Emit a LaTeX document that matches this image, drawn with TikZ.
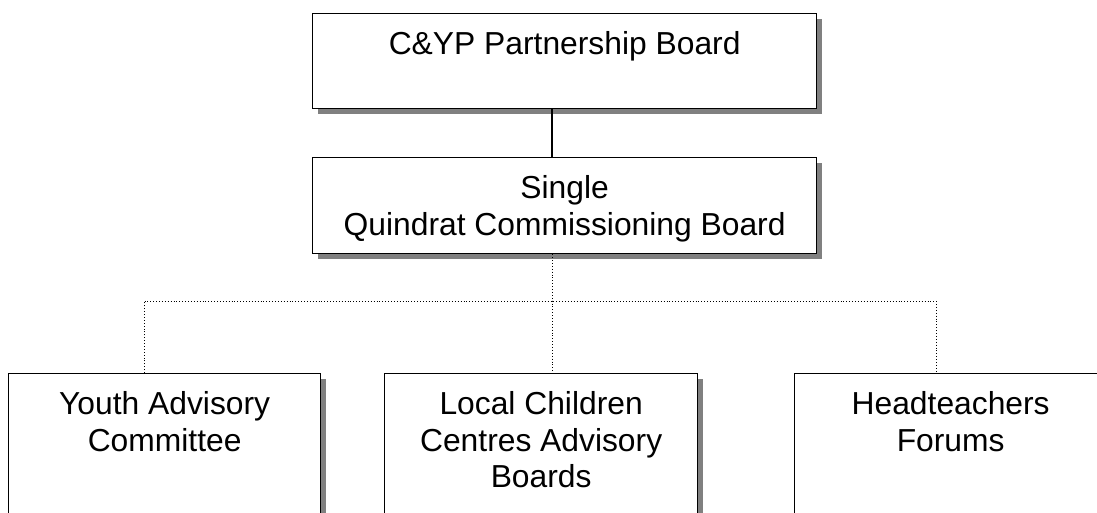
\documentclass[tikz,border=0pt]{standalone}
\usepackage{fontspec}
\setmainfont{Liberation Sans}
\usepackage{tikz}
\usetikzlibrary{positioning, shadows}
\newcommand{\boxtext}[3]{\parbox[t][#2][t]{#1}{\centering\vspace*{18pt}#3}}

\tikzset{
  orgbox/.style={draw, line width=1.3pt, fill=white, inner sep=0pt, anchor=north west,
    font=\fontsize{31.8}{36.5}\selectfont,
    drop shadow={shadow xshift=5pt, shadow yshift=-5pt, fill=black!50, opacity=1}},
  link/.style={line width=1.1pt},
  dotlink/.style={line width=0.9pt, dotted}
}

\begin{document}
\begin{tikzpicture}[x=1pt, y=1pt]
    \useasboundingbox (0, 0) rectangle (1097, 513);
    \clip (0, 0) rectangle (1097, 513);

    \node [orgbox] (pship) at (312, 500) {\boxtext{504pt}{95pt}{C\&YP Partnership Board}};
    \node [orgbox] (sqcb) at (312, 356) {\boxtext{504pt}{96pt}{Single\\Quindrat Commissioning Board}};
    \node [orgbox] (youth) at (8, 140) {\boxtext{312pt}{170pt}{Youth Advisory\\Committee}};
    \node [orgbox] (centres) at (384, 140) {\boxtext{313pt}{170pt}{Local Children\\Centres Advisory\\Boards}};
    \node [orgbox] (heads) at (794, 140) {\boxtext{312pt}{170pt}{Headteachers\\Forums}};

    \coordinate (bus) at (552, 212);
    \coordinate (busl) at (144, 212);
    \coordinate (busr) at (936, 212);

    \draw [link] (pship.south -| bus) -- (sqcb.north -| bus);
    \draw [dotlink] (sqcb.south -| bus) -- (bus) -- (centres.north -| bus);
    \draw [dotlink] (youth.north -| busl) -- (busl) -- (busr) -- (heads.north -| busr);
\end{tikzpicture}
\end{document}
